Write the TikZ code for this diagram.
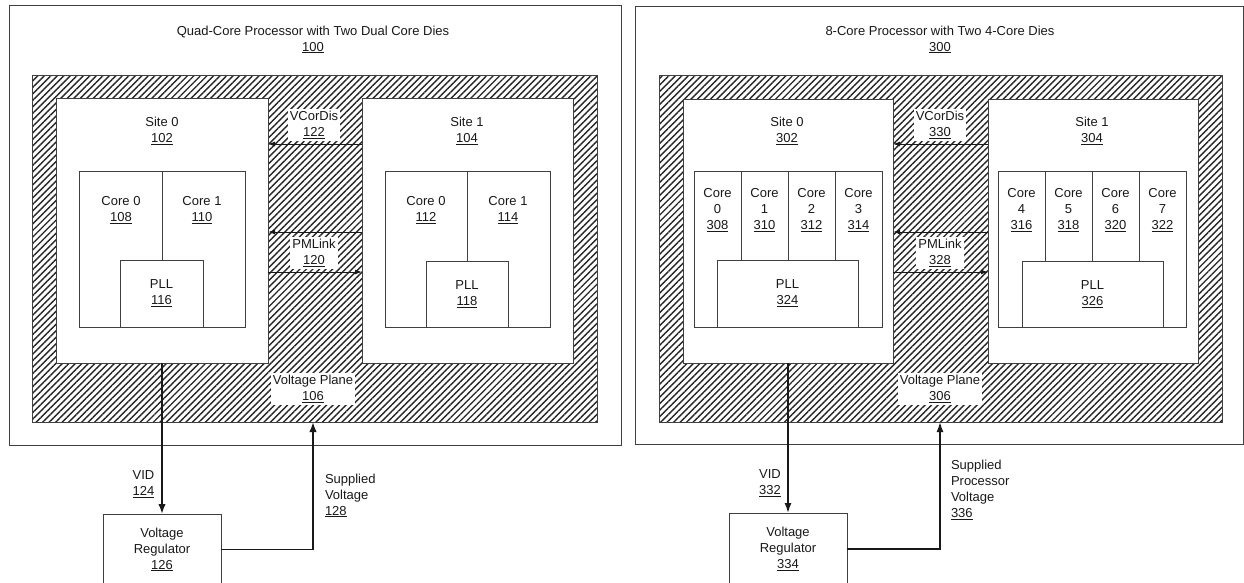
\documentclass[tikz,border=0pt]{standalone}
\usepackage{fontspec}
\setmainfont{Liberation Sans}
\usetikzlibrary{arrows.meta,patterns.meta}
\newcommand{\ul}[1]{\underline{#1}}
\begin{document}
\begin{tikzpicture}[x=1pt,y=-1pt,
  font=\fontsize{13}{16}\selectfont,
  every node/.style={inner sep=0pt, outer sep=0pt, text=black!90},
  box/.style={draw=black!75, line width=0.8pt, fill=white},
  plane/.style={draw=black!75, line width=0.8pt, pattern={Lines[angle=45,distance=4.6pt,line width=1.4pt]}, pattern color=black!85},
  lbl/.style={align=center},
  wlbl/.style={align=center, fill=white, inner xsep=2pt, inner ysep=2pt},
  thinarr/.style={draw=black!90, line width=1pt, -{Latex[length=7pt,width=5pt]}},
  bigarr/.style={draw=black!90, line width=1.8pt, -{Latex[length=10pt,width=7.5pt]}},
  midarr/.style={draw=black!90, line width=1.5pt, -{Latex[length=10pt,width=7pt]}}
]
\useasboundingbox (0,0) rectangle (1244,582);
\clip (0,0) rectangle (1244,582);
\fill[white] (0,0) rectangle (1244,582);

% ================= LEFT PANEL =================
\node[box, minimum width=612, minimum height=440] (outL) at (315,225) {};
\node[lbl] (titleL) at (313,39.5) {Quad-Core Processor with Two Dual Core Dies\\\ul{100}};
\node[plane, minimum width=565, minimum height=347] (planeL) at (314.5,248.5) {};
\node[box, minimum width=212, minimum height=265] (s0L) at (162,230.5) {};
\node[box, minimum width=211, minimum height=265] (s1L) at (467.5,230.5) {};
\node[lbl] (s0Lt) at (162,131) {Site 0\\\ul{102}};
\node[lbl] (s1Lt) at (467,131) {Site 1\\\ul{104}};
% site 0 cores
\node[box, minimum width=83, minimum height=156] (c108) at (120.5,249) {};
\node[box, minimum width=83, minimum height=156] (c110) at (203.5,249) {};
\node[lbl] (c108t) at (121,210) {Core 0\\\ul{108}};
\node[lbl] (c110t) at (202,210) {Core 1\\\ul{110}};
\node[box, minimum width=83, minimum height=67, align=center] (p116) at (161.5,293.5) {PLL\\\ul{116}};
% site 1 cores
\node[box, minimum width=82, minimum height=156] (c112) at (426,249) {};
\node[box, minimum width=83, minimum height=156] (c114) at (508.5,249) {};
\node[lbl] (c112t) at (426,210) {Core 0\\\ul{112}};
\node[lbl] (c114t) at (508,210) {Core 1\\\ul{114}};
\node[box, minimum width=82, minimum height=66, align=center] (p118) at (467,294) {PLL\\\ul{118}};
% links
\node[wlbl] (vcL) at (314,125) {VCorDis\\\ul{122}};
\node[wlbl] (pmL) at (314,253) {PMLink\\\ul{120}};
\node[wlbl] (vpL) at (313,389) {Voltage Plane\\\ul{106}};
\coordinate (yv) at (0,144);
\coordinate (yp1) at (0,232);
\coordinate (yp2) at (0,272);
\draw[thinarr] (s1L.west |- yv) -- (s0L.east |- yv);
\draw[thinarr] (s1L.west |- yp1) -- (s0L.east |- yp1);
\draw[thinarr] (s0L.east |- yp2) -- (s1L.west |- yp2);
% regulator
\node[box, minimum width=118, minimum height=71, align=center] (regL) at (162,549.5) {Voltage\\Regulator\\\ul{126}};
\draw[bigarr] (s0L.south) -- (regL.north);
\node[lbl] (vidL) at (143.5,484) {VID\\\ul{124}};
\coordinate (svL) at (313,422);
\draw[bigarr] (regL.east) -| (svL);
\node[align=left, anchor=west] (supL) at (325,495.5) {Supplied\\Voltage\\\ul{128}};

% ================= RIGHT PANEL =================
\node[box, minimum width=608, minimum height=438] (outR) at (939,225) {};
\node[lbl] (titleR) at (940,39.5) {8-Core Processor with Two 4-Core Dies\\\ul{300}};
\node[plane, minimum width=563, minimum height=347] (planeR) at (940.5,248.5) {};
\node[box, minimum width=210, minimum height=264] (s0R) at (788,231) {};
\node[box, minimum width=210, minimum height=264] (s1R) at (1093,231) {};
\node[lbl] (s0Rt) at (787,131) {Site 0\\\ul{302}};
\node[lbl] (s1Rt) at (1092,131) {Site 1\\\ul{304}};
% site 0 cores
\foreach \i/\x/\n/\m in {a/717.5/0/308, b/764.5/1/310, c/811.5/2/312, d/858.5/3/314}{
  \node[box, minimum width=47, minimum height=156] (cR0\i) at (\x,249) {};
  \node[lbl] (cR0\i t) at (\x,210.5) {Core\\\n\\\ul{\m}};
}
\node[box, minimum width=141, minimum height=67, align=center] (p324) at (787.5,293.5) {PLL\\\ul{324}};
% site 1 cores
\foreach \i/\x/\n/\m in {a/1021.5/4/316, b/1068.5/5/318, c/1115.5/6/320, d/1162.5/7/322}{
  \node[box, minimum width=47, minimum height=156] (cR1\i) at (\x,249) {};
  \node[lbl] (cR1\i t) at (\x,210.5) {Core\\\n\\\ul{\m}};
}
\node[box, minimum width=141, minimum height=66, align=center] (p326) at (1092.5,294) {PLL\\\ul{326}};
% links
\node[wlbl] (vcR) at (940,125) {VCorDis\\\ul{330}};
\node[wlbl] (pmR) at (940,253) {PMLink\\\ul{328}};
\node[wlbl] (vpR) at (940,389) {Voltage Plane\\\ul{306}};
\draw[thinarr] (s1R.west |- yv) -- (s0R.east |- yv);
\draw[thinarr] (s1R.west |- yp1) -- (s0R.east |- yp1);
\draw[thinarr] (s0R.east |- yp2) -- (s1R.west |- yp2);
% regulator
\node[box, minimum width=118, minimum height=72, align=center] (regR) at (788,549) {Voltage\\Regulator\\\ul{334}};
\draw[midarr] (s0R.south) -- (regR.north);
\node[lbl] (vidR) at (770,483) {VID\\\ul{332}};
\coordinate (svR) at (940,422);
\draw[midarr] (regR.east) -| (svR);
\node[align=left, anchor=west] (supR) at (951,490) {Supplied\\Processor\\Voltage\\\ul{336}};
\end{tikzpicture}
\end{document}
